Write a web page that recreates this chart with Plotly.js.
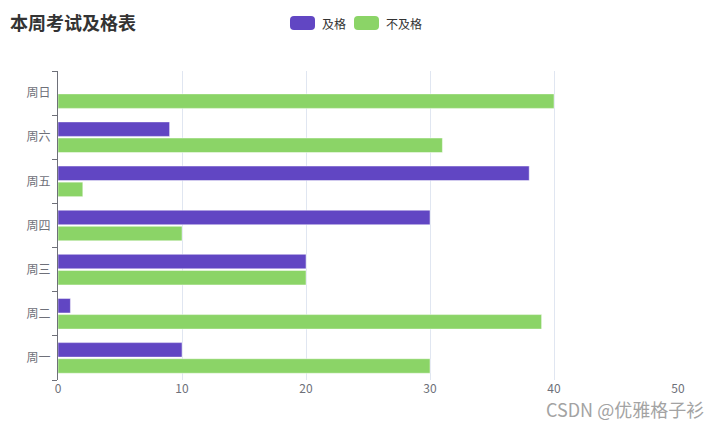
<!DOCTYPE html>
<html>
<head>
<meta charset="utf-8">
<script src="https://cdn.plot.ly/plotly-3.0.1.min.js"></script>
<style>html,body{margin:0;padding:0;background:#fff;}#chart{width:720px;height:425px;}</style>
</head>
<body>
<div id="chart"></div>
<script>
var categories = ['周一', '周二', '周三', '周四', '周五', '周六', '周日'];
var passValues = [10, 1, 20, 30, 38, 9, 0];
var failValues = [30, 39, 20, 10, 2, 31, 40];
var seriesNames = ['及格', '不及格'];
var xTicks = [0, 10, 20, 30, 40, 50];

var purple = '#6146c3';
var green = '#8bd467';
var font = '"Noto Sans CJK SC", "Noto Sans", sans-serif';

var traces = [
  {
    type: 'bar', orientation: 'h', name: seriesNames[1],
    y: categories, x: failValues,
    marker: {color: green, line: {color: 'rgba(255,255,255,0.45)', width: 1}},
    hoverinfo: 'x+y+name', showlegend: false
  },
  {
    type: 'bar', orientation: 'h', name: seriesNames[0],
    y: categories, x: passValues,
    marker: {color: purple, line: {color: 'rgba(255,255,255,0.45)', width: 1}},
    hoverinfo: 'x+y+name', showlegend: false
  }
];

var W = 720, H = 425;
var M = {l: 58, r: 42, t: 71, b: 45};
var PW = W - M.l - M.r, PH = H - M.t - M.b;
// convert figure pixels to paper (plot-area) fractions
function px(x) { return (x - M.l) / PW; }
function py(y) { return (H - M.b - y) / PH; }

function iconPath(x0, y0, w, h, r) {
  var x1 = x0 + w, y1 = y0 + h;
  function p(x, y) { return px(x).toFixed(5) + ',' + py(y).toFixed(5); }
  return 'M' + p(x0 + r, y0) + ' L' + p(x1 - r, y0) +
    ' Q' + p(x1, y0) + ' ' + p(x1, y0 + r) +
    ' L' + p(x1, y1 - r) +
    ' Q' + p(x1, y1) + ' ' + p(x1 - r, y1) +
    ' L' + p(x0 + r, y1) +
    ' Q' + p(x0, y1) + ' ' + p(x0, y1 - r) +
    ' L' + p(x0, y0 + r) +
    ' Q' + p(x0, y0) + ' ' + p(x0 + r, y0) + ' Z';
}

var layout = {
  width: W, height: H,
  margin: M,
  paper_bgcolor: '#fff', plot_bgcolor: '#fff',
  barmode: 'group', bargap: 0.27, bargroupgap: 0.1,
  showlegend: false,
  font: {family: font, size: 12, color: '#6e7079'},
  title: {
    text: '<b>本周考试及格表</b>',
    x: 10 / W, xanchor: 'left', y: 1 - 24 / H, yanchor: 'middle',
    font: {family: font, size: 18, color: '#333'}
  },
  xaxis: {
    range: [0, 50], tickvals: xTicks, ticktext: xTicks.map(String),
    showgrid: true, gridcolor: '#e0e6f1', gridwidth: 1,
    zeroline: false, showline: false, ticks: '',
    tickfont: {family: font, size: 12, color: '#6e7079'},
    fixedrange: true
  },
  yaxis: {
    type: 'category', categoryorder: 'array', categoryarray: categories,
    showline: true, linecolor: '#6e7079', linewidth: 1,
    ticks: 'outside', tickson: 'boundaries', ticklen: 5, tickcolor: '#6e7079',
    showgrid: false, zeroline: false,
    tickfont: {family: font, size: 12, color: '#6e7079'},
    ticklabelstandoff: 4,
    fixedrange: true
  },
  shapes: [
    {type: 'path', xref: 'paper', yref: 'paper', path: iconPath(290, 16, 25, 14, 4), line: {width: 0}, fillcolor: purple},
    {type: 'path', xref: 'paper', yref: 'paper', path: iconPath(354, 16, 25, 14, 4), line: {width: 0}, fillcolor: green}
  ],
  annotations: [
    {xref: 'paper', yref: 'paper', x: px(320), y: py(23), xanchor: 'left', yanchor: 'middle',
     text: seriesNames[0], showarrow: false, font: {family: font, size: 12, color: '#333'}},
    {xref: 'paper', yref: 'paper', x: px(384), y: py(23), xanchor: 'left', yanchor: 'middle',
     text: seriesNames[1], showarrow: false, font: {family: font, size: 12, color: '#333'}},
    {xref: 'paper', yref: 'paper', x: px(706), y: py(409), xanchor: 'right', yanchor: 'middle',
     text: 'CSDN @优雅格子衫', showarrow: false,
     font: {family: font, size: 18, color: '#a3a3a3'}}
  ]
};

Plotly.newPlot('chart', traces, layout, {displayModeBar: false, staticPlot: true});
</script>
</body>
</html>
